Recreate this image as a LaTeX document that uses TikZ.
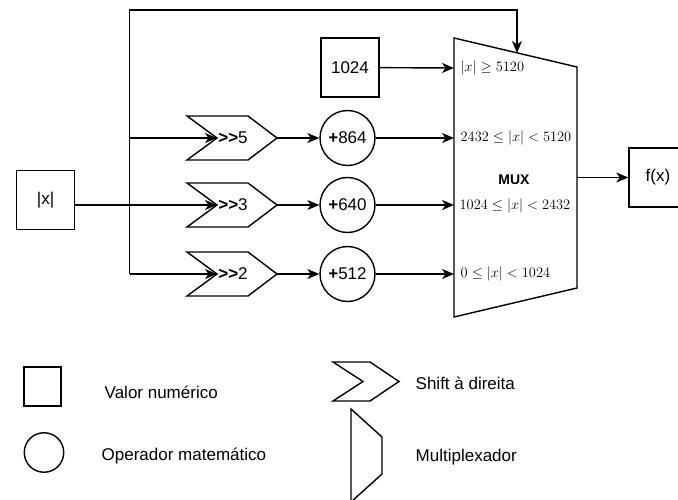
\documentclass[tikz,border=0pt]{standalone}
\usepackage{fontspec}
\newfontfamily\arial{Liberation Sans}
\usetikzlibrary{arrows.meta}
\begin{document}
\begin{tikzpicture}[x=1pt,y=-1pt,
  line width=1.4pt,
  arr/.style={-{Stealth[length=12pt,width=10pt,inset=3.5pt]}},
  txt/.style={font=\arial\fontsize{17}{19}\selectfont},
  box/.style={draw, txt, minimum width=58pt, minimum height=59pt, inner sep=0pt},
  op/.style={draw, circle, txt, minimum size=55pt, inner sep=0pt},
  shl/.style={txt, inner sep=0pt},
  cond/.style={anchor=west, inner sep=0pt, font=\fontsize{14}{16}\selectfont},
  legend/.style={txt, anchor=west, inner sep=0pt},
  chev/.pic={
    \draw (-45,-22) -- (16,-22) -- (45,0) -- (16,22) -- (-45,22) -- (-15,0) -- cycle;
    \coordinate (-notch) at (-15,0);
    \coordinate (-tip) at (45,0);
  }]
\useasboundingbox (0,0) rectangle (678,500);
\clip (0,0) rectangle (678,500);

% input and constant boxes
\node[box] (absx) at (45.5,200) {|x|};
\node[box] (k1024) at (350,67.5) {1024};
\node[box] (fx) at (658,177.5) {f(x)};

% right-shift stages
\pic (c5) at (232,138) {chev};
\pic (c3) at (232,205) {chev};
\pic (c2) at (232,274) {chev};
\node[shl] (t5) at (233,138) {\textbf{>>}5};
\node[shl] (t3) at (233,205) {\textbf{>>}3};
\node[shl] (t2) at (233,274) {\textbf{>>}2};

% adders
\node[op] (o864) at (347.5,138) {\textbf{+}864};
\node[op] (o640) at (347.5,205) {\textbf{+}640};
\node[op] (o512) at (347.5,274) {\textbf{+}512};

% multiplexer
\draw (454,38) -- (577,67) -- (577,288) -- (454,317) -- cycle;
\node[font=\arial\bfseries\fontsize{14}{16}\selectfont] (mux) at (514,180) {MUX};
\coordinate (muxtop) at (517,53);
\coordinate (in1) at (454,68);
\coordinate (in2) at (454,138);
\coordinate (in3) at (454,205);
\coordinate (in4) at (454,274);
\coordinate (muxout) at (577,177.5);
\node[cond] (l1) at (460,68) {$|x| \geq 5120$};
\node[cond] (l2) at (460,138) {$2432 \leq |x| < 5120$};
\node[cond] (l3) at (459,206) {$1024 \leq |x| < 2432$};
\node[cond] (l4) at (460,274) {$0 \leq |x| < 1024$};

% fan-out of |x|
\coordinate (bj) at (129.5,205);
\coordinate (btop) at (129.5,10);
\coordinate (bbot) at (129.5,274);
\draw (absx.east |- bj) -- (bj);
\draw[arr] (bbot) -- (btop) -| (muxtop);
\draw[arr] (bj |- c5-notch) -- (c5-notch);
\draw[arr] (bj) -- (c3-notch);
\draw[arr] (bbot) -- (c2-notch);

% shift -> adder -> multiplexer
\draw[arr] (c5-tip) -- (o864);
\draw[arr] (c3-tip) -- (o640);
\draw[arr] (c2-tip) -- (o512);
\draw[arr] (k1024) -- (in1);
\draw[arr] (o864) -- (in2);
\draw[arr] (o640) -- (in3);
\draw[arr] (o512) -- (in4);
\draw[arr] (muxout) -- (fx);

% legend
\node[draw, minimum width=37pt, minimum height=39pt, inner sep=0pt] (lgbox) at (42.5,386.5) {};
\node[draw, circle, minimum size=39.5pt, inner sep=0pt] (lgop) at (44,452.5) {};
\node[legend] (lgboxt) at (104,392) {Valor numérico};
\node[legend] (lgopt) at (101,456) {Operador matemático};
\draw (333,362) -- (370,362) -- (399,381.5) -- (370,401) -- (333,401) -- (363,381.5) -- cycle;
\node[legend] (lgchevt) at (415,383) {Shift à direita};
\draw (351,409) -- (382,437) -- (382,474) -- (351,502) -- cycle;
\node[legend] (lgmuxt) at (415,457) {Multiplexador};
\end{tikzpicture}
\end{document}
